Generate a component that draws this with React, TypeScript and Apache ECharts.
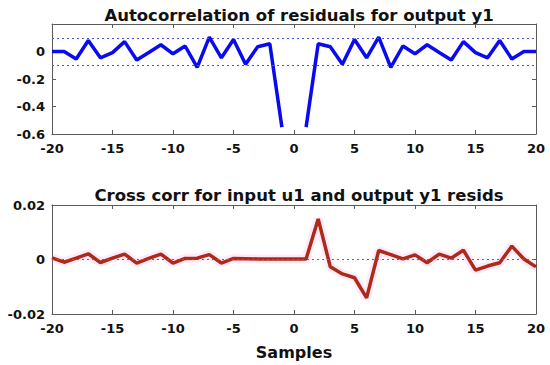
import React, { useEffect, useRef } from "react";
import * as echarts from "echarts";

const lags = [-20,-19,-18,-17,-16,-15,-14,-13,-12,-11,-10,-9,-8,-7,-6,-5,-4,-3,-2,-1,0,1,2,3,4,5,6,7,8,9,10,11,12,13,14,15,16,17,18,19,20];
const autoCorr: (number | null)[] = [0,0,-0.054,0.08,-0.046,-0.008,0.072,-0.062,-0.007,0.049,-0.017,0.04,-0.115,0.105,-0.046,0.087,-0.092,0.035,0.056,-0.55,null,-0.55,0.056,0.035,-0.092,0.087,-0.046,0.105,-0.115,0.04,-0.017,0.049,-0.007,-0.062,0.072,-0.008,-0.046,0.08,-0.054,0,0];
const crossCorr = [0.0006,-0.001,0.0005,0.0021,-0.0011,0.0005,0.002,-0.0013,0.0004,0.002,-0.0013,0.0004,0.0005,0.0018,-0.0013,0.0004,0.0003,0.0002,0.0002,0.0002,0.0002,0.0002,0.0149,-0.0027,-0.0053,-0.0067,-0.0141,0.0033,0.0018,0.0002,0.0017,-0.0012,0.002,0.0005,0.0034,-0.0039,-0.0024,-0.0012,0.0049,0.0002,-0.0027];
const autoConf = [0.095, -0.095];
const crossConf = [0.0001, -0.0001];
const xTicks = { min: -20, max: 20, interval: 5 };
const titles = ["Autocorrelation of residuals for output y1", "Cross corr for input u1 and output y1 resids"];
const xLabel = "Samples";

const FONT = "'DejaVu Sans', Arial, sans-serif";
const AXIS_COLOR = "#5a5a5a";

export default function App() {
  const ref = useRef<HTMLDivElement>(null);
  useEffect(() => {
    const chart = echarts.init(ref.current!, null, { renderer: "svg" });
    const grids = [
      { left: 52, right: 14, top: 24, height: 110 },
      { left: 52, right: 14, top: 205, height: 109 },
    ];
    const labelStyle = { color: "#111", fontWeight: "bold" as const, fontSize: 13, fontFamily: FONT };
    const mkX = (gi: number, pos: "bottom" | "top", show: boolean, name?: string) => ({
      type: "value" as const,
      gridIndex: gi,
      position: pos,
      min: xTicks.min, max: xTicks.max, interval: xTicks.interval,
      axisLine: { show: true, onZero: false, lineStyle: { color: AXIS_COLOR, width: 1 } },
      axisTick: { show: true, inside: true, length: 4, lineStyle: { color: AXIS_COLOR } },
      axisLabel: { show, margin: 8, ...labelStyle },
      splitLine: { show: false },
      name, nameLocation: "middle" as const, nameGap: 30,
      nameTextStyle: { color: "#111", fontWeight: "bold" as const, fontSize: 16, fontFamily: FONT },
    });
    const mkY = (gi: number, pos: "left" | "right", show: boolean, min: number, max: number, interval: number, showMax: boolean) => ({
      type: "value" as const,
      gridIndex: gi,
      position: pos,
      min, max, interval,
      axisLine: { show: true, onZero: false, lineStyle: { color: AXIS_COLOR, width: 1 } },
      axisTick: { show: true, inside: true, length: 4, lineStyle: { color: AXIS_COLOR } },
      axisLabel: { show, margin: 7, showMaxLabel: showMax, ...labelStyle },
      splitLine: { show: false },
    });
    const autoData = lags.map((l, i) => [l, autoCorr[i]]);
    const crossData = lags.map((l, i) => [l, crossCorr[i]]);
    chart.setOption({
      animation: false,
      backgroundColor: "#fff",
      title: titles.map((t, i) => ({
        text: t,
        left: 294,
        textAlign: "center",
        top: i === 0 ? 2 : 182,
        textStyle: { color: "#111", fontWeight: "bold", fontSize: 16.5, fontFamily: FONT },
      })),
      grid: grids,
      xAxis: [mkX(0, "bottom", true), mkX(0, "top", false), mkX(1, "bottom", true, xLabel), mkX(1, "top", false)],
      yAxis: [
        mkY(0, "left", true, -0.6, 0.2, 0.2, false),
        mkY(0, "right", false, -0.6, 0.2, 0.2, false),
        mkY(1, "left", true, -0.02, 0.02, 0.02, true),
        mkY(1, "right", false, -0.02, 0.02, 0.02, true),
      ],
      series: [
        {
          type: "line", xAxisIndex: 0, yAxisIndex: 0, data: autoData, showSymbol: false, connectNulls: false,
          lineStyle: { color: "#0a0af0", width: 3.5 },
          markLine: {
            silent: true, symbol: "none", label: { show: false },
            lineStyle: { color: "#5050e0", type: [2, 3], width: 1.2 },
            data: autoConf.map((v) => ({ yAxis: v })),
          },
        },
        {
          type: "line", xAxisIndex: 2, yAxisIndex: 2, data: crossData, showSymbol: false,
          lineStyle: { color: "rgba(255,140,235,0.18)", width: 9 },
          z: 1,
        },
        {
          type: "line", xAxisIndex: 2, yAxisIndex: 2, data: crossData, showSymbol: false,
          lineStyle: { color: "#ac2a18", width: 3.5 },
          z: 3,
          markLine: {
            silent: true, symbol: "none", label: { show: false },
            lineStyle: { color: "#7a4fc0", type: [2, 3], width: 1.2 },
            data: crossConf.map((v) => ({ yAxis: v })),
          },
        },
      ],
    });
    return () => chart.dispose();
  }, []);
  return <div ref={ref} style={{ width: 550, height: 365, position: "absolute", left: 0, top: 0 }} />;
}
